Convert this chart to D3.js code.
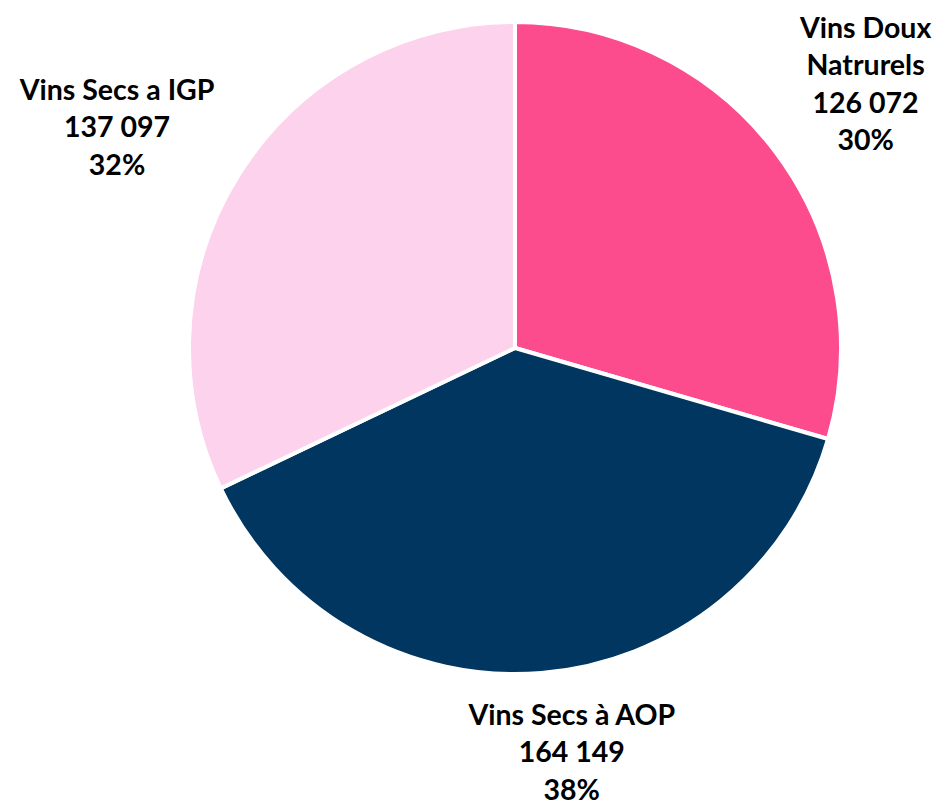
<!DOCTYPE html>
<html>
<head>
    <meta charset="utf-8">
    <title>Vins - répartition</title>
    <script src="https://d3js.org/d3.v7.min.js"></script>
    <style>
        body { margin: 0; background: #fff; }
        text { font-family: Lato, "Open Sans", sans-serif; font-weight: 700; font-size: 28.5px; fill: #000; }
    </style>
</head>
<body>
    <div id="chart"></div>
    <script>
        // data
        const categories = ["Vins Doux\nNatrurels", "Vins Secs à AOP", "Vins Secs a IGP"];
        const volumes = [126072, 164149, 137097];
        const valueLabels = ["126 072", "164 149", "137 097"];
        const percentLabels = ["30%", "38%", "32%"];
        const colors = ["#fc4c8d", "#00365f", "#fdd2ec"];

        const width = 940, height = 805;
        const cx = 515, cy = 348, radius = 326;

        // where each label block sits: distance from center and angle (deg, clockwise from top)
        const labelPlace = [[439, 53], [408, 172], [455, 299]];

        const svg = d3.select("#chart").append("svg")
            .attr("width", width)
            .attr("height", height);

        const g = svg.append("g").attr("transform", `translate(${cx},${cy})`);

        const pie = d3.pie().sort(null).value(d => d);
        const arc = d3.arc().innerRadius(0).outerRadius(radius);
        const color = d3.scaleOrdinal().domain(d3.range(categories.length)).range(colors);

        g.selectAll("path")
            .data(pie(volumes))
            .enter().append("path")
            .attr("d", arc)
            .attr("fill", (d, i) => color(i))
            .attr("stroke", "#fff")
            .attr("stroke-width", 4)
            .attr("stroke-linejoin", "round");

        // labels
        const lineH = 37.5;
        categories.forEach((c, i) => {
            const lines = c.split("\n").concat([valueLabels[i], percentLabels[i]]);
            const [r, a] = labelPlace[i];
            const rad = a * Math.PI / 180;
            const x = r * Math.sin(rad), y = -r * Math.cos(rad);
            const t = g.append("text")
                .attr("text-anchor", "middle")
                .attr("x", x)
                .attr("y", y - (lines.length - 1) * lineH / 2);
            lines.forEach((l, k) => {
                t.append("tspan").attr("x", x).attr("dy", k === 0 ? "0.35em" : lineH).text(l);
            });
        });
    </script>
</body>
</html>
